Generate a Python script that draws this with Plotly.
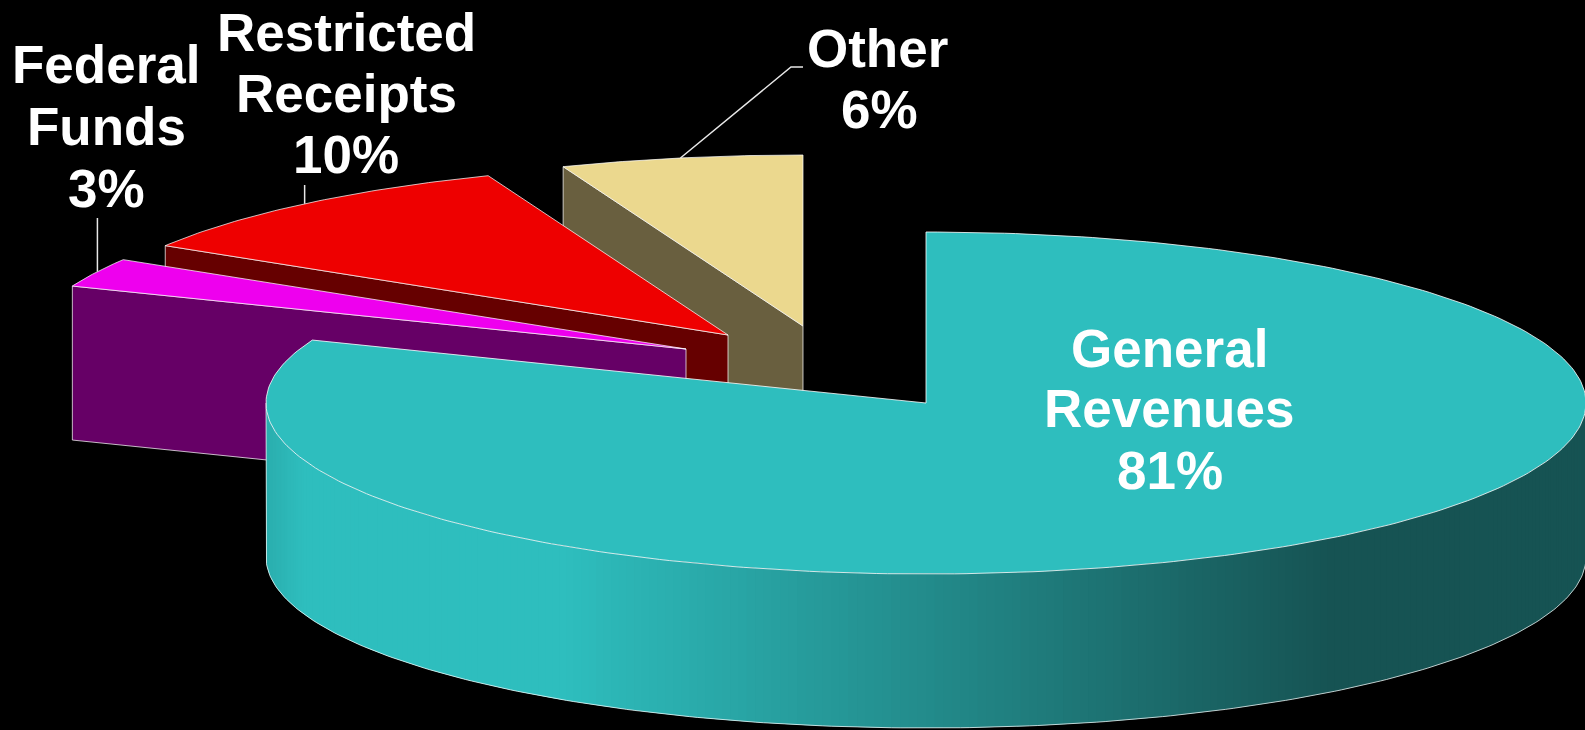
import numpy as np
import plotly.graph_objects as go

# ---- data ----
categories = ["General Revenues", "Federal Funds", "Restricted Receipts", "Other"]
values = [81.0, 2.75, 10.33, 5.92]
label_lines = [["General", "Revenues", "81%"], ["Federal", "Funds", "3%"],
               ["Restricted", "Receipts", "10%"], ["Other", "6%"]]

# ---- style / layout ----
W, H = 1585, 730
CX, CY, RX, RY, DEPTH = 926, 403, 660, 171, 154
offsets = [(0, 0), (-240, -54), (-198, -68), (-123, -77)]
top_colors = ["#2EBEBE", "#EE00EE", "#EE0000", "#EBD88E"]
wall_colors = ["#165353", "#660066", "#660000", "#695F3F"]
label_x = [[1169, 1169, 1170], [106, 106, 106], [346, 346, 346], [877, 879]]
label_y = [[348.5, 408.5, 470.5], [64.5, 126.5, 188.5], [32.5, 93.5, 154.5], [48.5, 109.5]]
FONT = "Liberation Sans, Arial, sans-serif"
EDGE = "rgba(255,255,255,0.72)"


def pt(t_deg, cx, cy):
    t = np.radians(t_deg)
    return cx + RX * np.sin(t), cy - RY * np.cos(t)


def mix(a, b, f):
    ca = [int(a[i:i + 2], 16) for i in (1, 3, 5)]
    cb = [int(b[i:i + 2], 16) for i in (1, 3, 5)]
    return "rgb(%d,%d,%d)" % tuple(round(p + (q - p) * f) for p, q in zip(ca, cb))


def wall_shade(x):
    # lit side of the rim fades into its dark side, with a narrow dim strip at the far left
    if x < 305:
        return mix("#2BAEAE", top_colors[0], max(0, (x - 267) / 38))
    if x < 560:
        return top_colors[0]
    if x < 1330:
        return mix(top_colors[0], wall_colors[0], (x - 560) / 770)
    return wall_colors[0]


fig = go.Figure()


def poly(xs, ys, fill, line=EDGE, width=1):
    fig.add_trace(go.Scatter(x=xs, y=ys, mode="lines", fill="toself", fillcolor=fill,
                             line=dict(color=line, width=width), hoverinfo="skip",
                             showlegend=False))


total = sum(values)
edges = np.cumsum([0] + values) / total * 360
spans = {i: (edges[i], edges[i + 1]) for i in range(len(values))}

# painter's order: farthest slice first
for i in [3, 2, 1]:
    a0, a1 = spans[i]
    cx, cy = CX + offsets[i][0], CY + offsets[i][1]
    ox, oy = pt(a0, cx, cy)
    poly([cx, ox, ox, cx, cx], [cy, oy, oy + DEPTH, cy + DEPTH, cy], wall_colors[i])
    ts = np.linspace(a0, a1, 60)
    xs, ys = pt(ts, cx, cy)
    poly([cx, *xs, cx], [cy, *ys, cy], top_colors[i])

# front slice: shaded outer rim (bands overlap so no seams), then its top face
steps = np.linspace(90, 270, 241)
for k in range(len(steps) - 1):
    t0, t1 = steps[k], steps[min(k + 2, len(steps) - 1)]
    x0, y0 = pt(t0, CX, CY)
    x1, y1 = pt(t1, CX, CY)
    xm = pt((steps[k] + steps[k + 1]) / 2, CX, CY)[0]
    poly([x0, x1, x1, x0, x0], [y0, y1, y1 + DEPTH, y0 + DEPTH, y0], wall_shade(xm),
         line="rgba(0,0,0,0)", width=0)

rim_x, rim_y = pt(steps, CX, CY)
fig.add_trace(go.Scatter(x=[rim_x[-1], *rim_x[::-1], rim_x[0]],
                         y=[rim_y[-1], *(rim_y[::-1] + DEPTH), rim_y[0]],
                         mode="lines", line=dict(color=EDGE, width=1),
                         hoverinfo="skip", showlegend=False))

a0, a1 = spans[0]
ts = np.linspace(a0, a1, 300)
xs, ys = pt(ts, CX, CY)
poly([CX, *xs, CX], [CY, *ys, CY], top_colors[0], line="rgba(255,255,255,0.8)")

# leader lines, from each outer slice edge up to its label
leaders = {
    1: (296.9, [], [218]),
    2: (320.1, [], [185]),
    3: (349.3, [791, 803], [67, 67]),
}
for i, (ang, lx, ly) in leaders.items():
    px, py = pt(ang, CX + offsets[i][0], CY + offsets[i][1])
    fig.add_trace(go.Scatter(x=[px, *(lx or [px])], y=[py, *ly],
                             mode="lines", line=dict(color="#E8E8E8", width=1.5),
                             hoverinfo="skip", showlegend=False))

annotations = []
for lines, xs_, ys_ in zip(label_lines, label_x, label_y):
    for text, x, y in zip(lines, xs_, ys_):
        annotations.append(dict(x=x, y=y, text=text, showarrow=False, xanchor="center",
                                yanchor="middle",
                                font=dict(family=FONT, size=53, color="white", weight="bold")))

fig.update_layout(
    width=W, height=H, margin=dict(l=0, r=0, t=0, b=0, pad=0),
    paper_bgcolor="black", plot_bgcolor="black",
    xaxis=dict(range=[0, W], visible=False, fixedrange=True),
    yaxis=dict(range=[H, 0], visible=False, fixedrange=True),
    annotations=annotations, showlegend=False,
)
fig.write_html("out.html", config={"displayModeBar": False},
               post_script="document.body.style.margin='0';document.body.style.background='black';document.body.style.overflow='hidden';")
